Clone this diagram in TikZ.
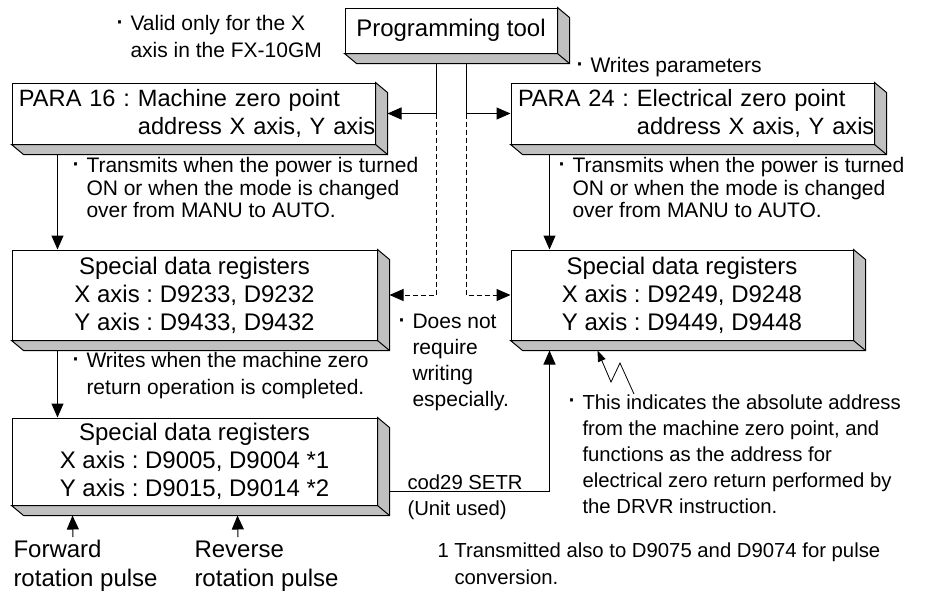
\documentclass[tikz,border=0pt]{standalone}
\usepackage{fontspec}
\setmainfont{Liberation Sans}
\usetikzlibrary{arrows.meta}
\definecolor{slabgray}{HTML}{C0C0C0}
\newcommand{\boxfont}{\fontsize{24}{28}\selectfont}
\newcommand{\notefont}{\fontsize{21}{27}\selectfont}
\newcommand{\smallnote}{\fontsize{20.3}{26}\selectfont}
\newcommand{\dotmark}{\llap{\raisebox{0.5pt}{\fontsize{30}{30}\selectfont·}\hspace{6pt}}}
\newcommand{\slabside}[1]{%
  \filldraw[fill=slabgray] (#1.north east) -- ++(12,10) -- ([shift={(12,10)}]#1.south east)
    -- ([shift={(12,10)}]#1.south west) -- (#1.south west) -- (#1.south east) -- cycle;
  \draw (#1.south east) -- ++(12,10);}
\tikzset{
  slab/.style={draw, fill=white, inner sep=0pt, font=\boxfont, align=center},
  parabox/.style={slab, align=left, text width=349pt, inner xsep=7pt, minimum height=61pt,
    font=\fontsize{23.6}{28}\selectfont},
  note/.style={inner sep=0pt, anchor=north west, align=left, font=\notefont},
  arr/.style={-{Triangle[length=14pt,width=12pt]}},
  thinarr/.style={-{Triangle[length=11pt,width=8pt]}},
}
\begin{document}
\frenchspacing
\begin{tikzpicture}[x=1pt,y=-1pt,line width=1pt]
  \useasboundingbox (0,0) rectangle (927,592);

  \node[slab, minimum width=212pt, minimum height=45pt] (tool) at (451,30.5) {Programming tool};
  \node[parabox] (para16) at (193.5,113.5)
    {\mbox{PARA 16 : Machine zero point}\\\mbox{\hphantom{PARA 16 : }address X axis, Y axis}};
  \node[parabox] (para24) at (692.5,113.5)
    {\mbox{PARA 24 : Electrical zero point}\\\mbox{\hphantom{PARA 24 : }address X axis, Y axis}};
  \node[slab, minimum width=365pt, minimum height=90pt] (regA) at (194.5,295)
    {Special data registers\\X axis : D9233, D9232\\Y axis : D9433, D9432};
  \node[slab, minimum width=342pt, minimum height=90pt] (regB) at (682,295)
    {Special data registers\\X axis : D9249, D9248\\Y axis : D9449, D9448};
  \node[slab, minimum width=365pt, minimum height=87pt] (regC) at (194.5,461.5)
    {Special data registers\\X axis : D9005, D9004 *1\\Y axis : D9015, D9014 *2};
  \slabside{tool}
  \slabside{para16}
  \slabside{para24}
  \slabside{regA}
  \slabside{regB}
  \slabside{regC}

  \node[note] (valid) at (130,15) {\dotmark Valid only for the X\\axis in the FX-10GM};
  \node[note] (writes) at (590,57) {\dotmark Writes parameters};
  \node[note, font=\fontsize{21}{22.5}\selectfont] (transL) at (86,157)
    {\dotmark Transmits when the power is turned\\ON or when the mode is changed\\over from MANU to AUTO.};
  \node[note, font=\fontsize{21}{22.5}\selectfont] (transR) at (572,157)
    {\dotmark Transmits when the power is turned\\ON or when the mode is changed\\over from MANU to AUTO.};
  \node[note, font=\fontsize{21}{26}\selectfont] (noneed) at (412,314)
    {\dotmark Does not\\require\\writing\\especially.};
  \node[note] (writezero) at (86,352)
    {\dotmark Writes when the machine zero\\return operation is completed.};
  \node[note, font=\smallnote] (absnote) at (582,394)
    {\dotmark This indicates the absolute address\\from the machine zero point, and\\functions as the address for\\electrical zero return performed by\\the DRVR instruction.};
  \node[note, font=\smallnote] (setr) at (407,474) {cod29 SETR\\(Unit used)};
  \node[note, font=\fontsize{20.3}{27}\selectfont] (foot) at (454,542)
    {\llap{1 }Transmitted also to D9075 and D9074 for pulse\\conversion.};
  \node[note, font=\fontsize{24}{29}\selectfont] (fwd) at (13,540) {Forward\\rotation pulse};
  \node[note, font=\fontsize{24}{29}\selectfont] (rev) at (194,540) {Reverse\\rotation pulse};

  \coordinate (tapL) at ([shift={(-15,9)}]tool.south);
  \coordinate (tapR) at ([shift={(15,9)}]tool.south);
  \draw[arr] (tapL) |- ([xshift=12pt]para16.east);
  \draw[arr] (tapR) |- (para24.west);
  \draw[arr, dash pattern=on 5pt off 3pt] (tapL |- para16.east) |- ([xshift=12pt]regA.east);
  \draw[arr, dash pattern=on 5pt off 3pt] (tapR |- para24.west) |- (regB.west);
  \draw[arr] ([shift={(46,10)}]para16.south west) -- ([xshift=46pt]regA.north west);
  \draw[arr] ([shift={(39,10)}]para24.south west) -- ([xshift=39pt]regB.north west);
  \draw[arr] ([shift={(46,10)}]regA.south west) -- ([xshift=46pt]regC.north west);
  \draw[arr] ([shift={(12,30)}]regC.east) -| ([shift={(39,10)}]regB.south west);
  \draw[arr] ([shift={(60,-3)}]fwd.north west) -- ([shift={(61,10)}]regC.south west);
  \draw[arr] ([shift={(44,-3)}]rev.north west) -- ([shift={(226,10)}]regC.south west);
  \draw[thinarr, line width=0.8pt] ([xshift=52pt]absnote.north west) -- ++(-14,-31) -- ++(-9,19)
    -- ([shift={(87,10)}]regB.south west);
\end{tikzpicture}
\end{document}
